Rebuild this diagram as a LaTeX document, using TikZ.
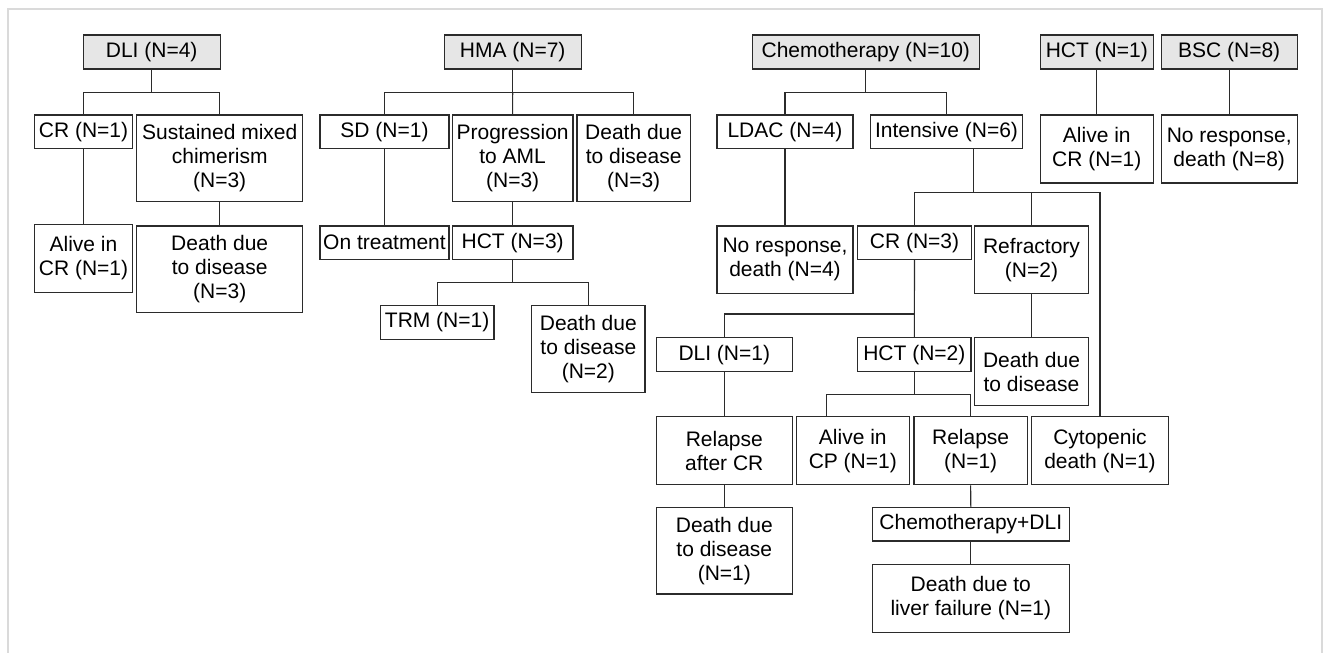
\documentclass[tikz,border=0pt]{standalone}
\usepackage{fontspec}
\setmainfont{Liberation Sans}
\definecolor{linec}{HTML}{2B2B2B}
\definecolor{topfill}{HTML}{E6E6E6}
\definecolor{framec}{HTML}{DADADA}
\tikzset{
  box/.style={draw=linec, line width=1.1pt, inner sep=0pt, align=center,
    font=\fontsize{21}{24}\selectfont, text=black, fill=white},
  topbox/.style={box, fill=topfill},
  conn/.style={draw=linec, line width=1.1pt}
}
\begin{document}
\begin{tikzpicture}[x=1pt,y=-1pt]
\useasboundingbox (0,0) rectangle (1323,653);
\fill[white] (0,0) rectangle (1323,653);
\draw[framec, line width=2pt] (7.5,670) -- (7.5,9) -- (1321.7,9) -- (1321.7,670);

% ---- top row
\node[topbox, minimum width=136.7pt, minimum height=34pt] (dli) at (151.7,52) {DLI (N=4)};
\node[topbox, minimum width=136.7pt, minimum height=34pt] (hma) at (512.7,52) {HMA (N=7)};
\node[topbox, minimum width=227pt, minimum height=34pt] (chemo) at (865.8,52) {Chemotherapy (N=10)};
\node[topbox, minimum width=113pt, minimum height=34pt] (hcta) at (1096.8,52) {HCT (N=1)};
\node[topbox, minimum width=136.3pt, minimum height=34pt] (bsc) at (1229.2,52) {BSC (N=8)};

% ---- second row
\node[box, minimum width=98.4pt, minimum height=33.7pt] (cra) at (83.5,131.85) {CR (N=1)};
\node[box, minimum width=166pt, minimum height=86.7pt] (smc) at (219.7,158.35) {Sustained mixed\\chimerism\\(N=3)};
\node[box, minimum width=129pt, minimum height=33.7pt] (sd) at (384.5,131.85) {SD (N=1)};
\node[box, minimum width=120.7pt, minimum height=86.7pt] (prog) at (512.65,158.35) {Progression\\to AML\\(N=3)};
\node[box, minimum width=113.3pt, minimum height=86.7pt] (ddha) at (633.65,158.35) {Death due\\to disease\\(N=3)};
\node[box, minimum width=136pt, minimum height=33.7pt] (ldac) at (785,131.85) {LDAC (N=4)};
\node[box, minimum width=151.6pt, minimum height=33.7pt] (intens) at (946.5,131.85) {Intensive (N=6)};
\node[box, minimum width=113pt, minimum height=68pt] (alivecrb) at (1096.8,149) {Alive in\\CR (N=1)};
\node[box, minimum width=136.3pt, minimum height=68pt] (noresb) at (1229.2,149) {No response,\\death (N=8)};

% ---- third row
\node[box, minimum width=98.4pt, minimum height=68.4pt] (alivecra) at (83.5,258.5) {Alive in\\CR (N=1)};
\node[box, minimum width=166pt, minimum height=86.7pt] (ddda) at (219.7,269.35) {Death due\\to disease\\(N=3)};
\node[box, minimum width=129pt, minimum height=33.3pt] (ontr) at (384.5,242.65) {On treatment};
\node[box, minimum width=120.7pt, minimum height=33.3pt] (hctb) at (512.65,242.65) {HCT (N=3)};
\node[box, minimum width=136pt, minimum height=67.3pt] (noresa) at (785,259.65) {No response,\\death (N=4)};
\node[box, minimum width=113.6pt, minimum height=33.3pt] (crb) at (914.5,242.65) {CR (N=3)};
\node[box, minimum width=113.6pt, minimum height=67.3pt] (refr) at (1031.5,259.65) {Refractory\\(N=2)};

% ---- HMA lower
\node[box, minimum width=113.7pt, minimum height=34pt] (trm) at (437.15,322.3) {TRM (N=1)};
\node[box, minimum width=113.3pt, minimum height=87pt] (ddhb) at (588.35,348.8) {Death due\\to disease\\(N=2)};

% ---- chemo lower
\node[box, minimum width=136pt, minimum height=34pt] (dlib) at (724.3,354.7) {DLI (N=1)};
\node[box, minimum width=113.3pt, minimum height=34pt] (hctc) at (914.35,354.7) {HCT (N=2)};
\node[box, minimum width=113.6pt, minimum height=68pt] (dddr) at (1031.5,371.7) {Death due\\to disease};
\node[box, minimum width=136pt, minimum height=68pt] (relcr) at (724.3,450.7) {Relapse\\after CR};
\node[box, minimum width=113pt, minimum height=68pt] (alivecp) at (852.8,450.7) {Alive in\\CP (N=1)};
\node[box, minimum width=113.3pt, minimum height=68pt] (rel) at (970.65,450.7) {Relapse\\(N=1)};
\node[box, minimum width=136.6pt, minimum height=68pt] (cyto) at (1100,450.7) {Cytopenic\\death (N=1)};
\node[box, minimum width=136pt, minimum height=86.7pt] (dddb) at (724.3,550.65) {Death due\\to disease\\(N=1)};
\node[box, minimum width=197pt, minimum height=33.7pt] (chdli) at (970.8,524.15) {Chemotherapy+DLI};
\node[box, minimum width=197pt, minimum height=68pt] (liver) at (970.8,598.3) {Death due to\\liver failure (N=1)};

% ---- junctions
\coordinate (jdli) at (151.7,92.3);
\coordinate (jhma) at (512.7,92.3);
\coordinate (jchemo) at (865.8,92.3);
\coordinate (jhctb) at (512.65,282.7);
\coordinate (jint) at (973.3,192.7);
\coordinate (jcr) at (914.5,314);
\coordinate (jhctc) at (914.35,394.3);

% ---- connectors
\draw[conn] (dli.south) -- (jdli);
\draw[conn] (cra.north) |- (jdli);
\draw[conn] (smc.north) |- (jdli);
\draw[conn] (cra.south) -- (alivecra.north);
\draw[conn] (smc.south) -- (ddda.north);

\draw[conn] (hma.south) -- (jhma);
\draw[conn] (sd.north) |- (jhma);
\draw[conn] (prog.north) -- (jhma);
\draw[conn] (ddha.north) |- (jhma);
\draw[conn] (sd.south) -- (ontr.north);
\draw[conn] (prog.south) -- (hctb.north);
\draw[conn] (hctb.south) -- (jhctb);
\draw[conn] (trm.north) |- (jhctb);
\draw[conn] (ddhb.north) |- (jhctb);

\draw[conn] (chemo.south) -- (jchemo);
\draw[conn] (ldac.north) |- (jchemo);
\draw[conn] (intens.north) |- (jchemo);
\draw[conn] (ldac.south) -- (noresa.north);
\draw[conn] (intens.south -| jint) -- (jint);
\draw[conn] (crb.north) |- (jint);
\draw[conn] (refr.north) |- (jint);
\draw[conn] (cyto.north) |- (jint);
\draw[conn] (refr.south) -- (dddr.north);
\draw[conn] (crb.south) -- (hctc.north);
\draw[conn] (dlib.north) |- (jcr);
\draw[conn] (dlib.south) -- (relcr.north);
\draw[conn] (relcr.south) -- (dddb.north);
\draw[conn] (hctc.south) -- (jhctc);
\draw[conn] ([xshift=-26.5pt]alivecp.north) |- (jhctc);
\draw[conn] (rel.north) |- (jhctc);
\draw[conn] (rel.south) -- (chdli.north);
\draw[conn] (chdli.south) -- (liver.north);

\draw[conn] (hcta.south) -- (alivecrb.north);
\draw[conn] (bsc.south) -- (noresb.north);
\end{tikzpicture}
\end{document}
